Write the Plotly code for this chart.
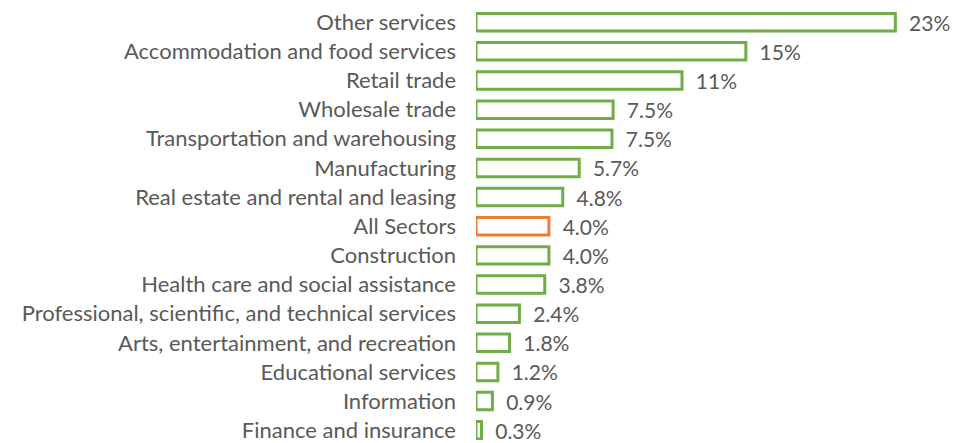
import plotly.graph_objects as go

categories = [
    "Other services",
    "Accommodation and food services",
    "Retail trade",
    "Wholesale trade",
    "Transportation and warehousing",
    "Manufacturing",
    "Real estate and rental and leasing",
    "All Sectors",
    "Construction",
    "Health care and social assistance",
    "Professional, scientific, and technical services",
    "Arts, entertainment, and recreation",
    "Educational services",
    "Information",
    "Finance and insurance",
]
values = [23.0, 14.8, 11.3, 7.52, 7.46, 5.66, 4.76, 4.0, 4.0, 3.77, 2.38, 1.84, 1.2, 0.9, 0.3]
highlight = "All Sectors"

GREEN = "#70AD47"
ORANGE = "#ED7D31"
TEXT = "#595959"
FONT = "Lato"
FSIZE = 22


def fmt(v):
    return f"{v:.0f}%" if v >= 10 else f"{v:.1f}%"


labels = [fmt(v) for v in values]
line_colors = [ORANGE if c == highlight else GREEN for c in categories]

fig = go.Figure(
    go.Bar(
        x=values,
        y=categories,
        orientation="h",
        width=0.6,
        marker=dict(color="white", line=dict(color=line_colors, width=3)),
        text=labels,
        texttemplate="  %{text}",
        textposition="outside",
        constraintext="none",
        textfont=dict(family=FONT, size=FSIZE - 1, color=TEXT),
        cliponaxis=False,
    )
)

fig.update_layout(
    width=954,
    height=435,
    margin=dict(l=468, r=12, t=0, b=0),
    paper_bgcolor="white",
    plot_bgcolor="white",
    showlegend=False,
    font=dict(family=FONT, size=FSIZE, color=TEXT),
)
fig.update_xaxes(range=[0, 26], visible=False, showgrid=False, zeroline=False)
fig.update_yaxes(
    type="category",
    categoryorder="array",
    categoryarray=categories,
    range=[14.334, -0.487],
    showgrid=False,
    zeroline=False,
    showline=False,
    ticks="",
    ticklabelstandoff=19,
    tickfont=dict(family=FONT, size=FSIZE, color=TEXT),
)

fig.write_html("out.html")
